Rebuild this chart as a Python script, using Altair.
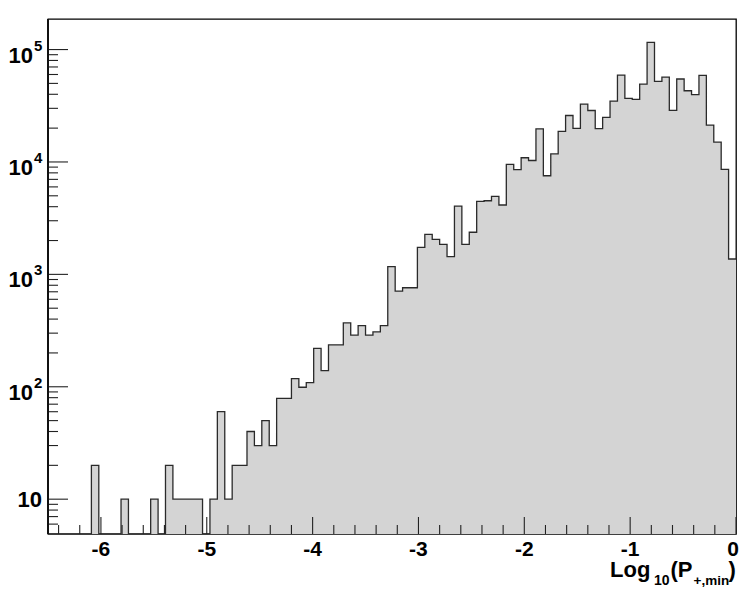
import altair as alt
import pandas as pd

# ---------------- data ----------------
BIN_WIDTH = 0.07
# histogram contents, bins left to right; last bin ends at 0
COUNTS = [
    0, 0, 0, 0, 0, 0, 20, 0, 0, 0, 10, 0, 0, 0, 10, 0, 20, 10, 10, 10,
    10, 0, 10, 60, 10, 20, 20, 40, 30, 50, 30, 79, 79, 118, 99, 109, 220, 139, 236, 236,
    370, 288, 350, 288, 308, 350, 1170, 710, 760, 760, 1740, 2270, 2050, 1850, 1440, 4050, 1850, 2370, 4460, 4520,
    4940, 4140, 9520, 8530, 10900, 10300, 19700, 7540, 11800, 18700, 25900, 19900, 32700, 28700, 19800, 24900, 34800, 59300, 36800, 36100,
    49300, 116000, 52100, 56900, 28800, 54700, 43000, 39800, 59000, 21300, 15000, 8600, 1370,
]
XTICKS = [-6, -5, -4, -3, -2, -1, 0]
XLABELS = ["-6", "-5", "-4", "-3", "-2", "-1", "0"]
XMINOR = [round(-6.4 + 0.2 * i, 1) for i in range(33)]
XMINOR = [v for v in XMINOR if abs(v - round(v)) > 1e-6]
YTICKS = [10, 100, 1000, 10000, 100000]
YBASE = ["10", "10", "10", "10", "10"]
YEXP = ["", "2", "3", "4", "5"]
YMINOR = [m * 10 ** k for k in range(0, 5) for m in range(2, 10)]
YMINOR = sorted(v for v in YMINOR if v > 5.5 and v not in YTICKS and v < 1.8e5)
XTITLE = ["Log", "10", "(P", "+,min", ")"]

# ---------------- layout ----------------
W, H = 688, 515
YMIN, YMAX = 4.9, 1.87e5
XMIN, XMAX = -6.5, 0.0
FONT = "Liberation Sans"

n = len(COUNTS)
lefts = [round(-BIN_WIDTH * (n - i), 4) for i in range(n)]
rights = [round(-BIN_WIDTH * (n - 1 - i), 4) for i in range(n)]

edges = lefts + [rights[-1]]
levels = [max(c, YMIN) for c in COUNTS] + [max(COUNTS[-1], YMIN)]
line_df = pd.DataFrame({"edge": edges, "level": levels, "floor": [YMIN] * len(edges)})

xs = alt.Scale(domain=[XMIN, XMAX], nice=False, zero=False)
ys = alt.Scale(type="log", domain=[YMIN, YMAX], nice=False)

fill = alt.Chart(line_df).mark_area(
    interpolate="step-after", color="#d4d4d4", opacity=1, clip=True
).encode(
    x=alt.X("edge:Q", scale=xs, axis=None),
    y=alt.Y("level:Q", scale=ys, axis=None, stack=None),
    y2="floor:Q",
)

outline = alt.Chart(line_df).mark_line(
    interpolate="step-after", color="#2a2a2a", strokeWidth=1.3, clip=True
).encode(
    x=alt.X("edge:Q", scale=xs, axis=None),
    y=alt.Y("level:Q", scale=ys, axis=None),
)

# ticks drawn inside the frame (ROOT style)
ymaj = alt.Chart(pd.DataFrame({"v": YTICKS})).mark_rule(color="#222", strokeWidth=1.1).encode(
    y=alt.Y("v:Q", scale=ys, axis=None), x=alt.value(0), x2=alt.value(20)
)
ymin_t = alt.Chart(pd.DataFrame({"v": YMINOR})).mark_rule(color="#222", strokeWidth=1.1).encode(
    y=alt.Y("v:Q", scale=ys, axis=None), x=alt.value(0), x2=alt.value(10)
)
xmaj = alt.Chart(pd.DataFrame({"v": XTICKS})).mark_rule(color="#222", strokeWidth=1.1).encode(
    x=alt.X("v:Q", scale=xs, axis=None), y=alt.value(H), y2=alt.value(H - 17)
)
xmin_t = alt.Chart(pd.DataFrame({"v": XMINOR})).mark_rule(color="#222", strokeWidth=1.1).encode(
    x=alt.X("v:Q", scale=xs, axis=None), y=alt.value(H), y2=alt.value(H - 9)
)
left_axis = alt.Chart(pd.DataFrame({"v": [0]})).mark_rule(color="#111", strokeWidth=2).encode(
    x=alt.value(0), y=alt.value(0), y2=alt.value(H)
)

# tick labels (the last one is kept inside the canvas edge)
xdf = pd.DataFrame({"v": XTICKS, "t": XLABELS})
xlab = alt.Chart(xdf.iloc[:-1]).mark_text(
    font=FONT, fontSize=21, fontWeight="bold", align="center", baseline="alphabetic", color="black"
).encode(x=alt.X("v:Q", scale=xs, axis=None), y=alt.value(H + 22), text="t:N")
xlab_last = alt.Chart(xdf.iloc[-1:]).mark_text(
    font=FONT, fontSize=21, fontWeight="bold", align="right", baseline="alphabetic", dx=3, color="black"
).encode(x=alt.X("v:Q", scale=xs, axis=None), y=alt.value(H + 22), text="t:N")

ydf = pd.DataFrame({"v": YTICKS, "b": YBASE, "e": YEXP})
ylab_plain = alt.Chart(ydf[ydf["e"] == ""]).mark_text(
    font=FONT, fontSize=22, fontWeight="bold", align="right", baseline="alphabetic", dy=8, color="black"
).encode(y=alt.Y("v:Q", scale=ys, axis=None), x=alt.value(-6), text="b:N")
ylab_base = alt.Chart(ydf[ydf["e"] != ""]).mark_text(
    font=FONT, fontSize=22, fontWeight="bold", align="right", baseline="alphabetic", dy=13, color="black"
).encode(y=alt.Y("v:Q", scale=ys, axis=None), x=alt.value(-15), text="b:N")
ylab_exp = alt.Chart(ydf[ydf["e"] != ""]).mark_text(
    font=FONT, fontSize=15, fontWeight="bold", align="left", baseline="alphabetic", dy=1, color="black"
).encode(y=alt.Y("v:Q", scale=ys, axis=None), x=alt.value(-14), text="e:N")

# axis title  Log10(P+,min)
title_specs = [
    (XTITLE[0], 562, 558, 22),
    (XTITLE[1], 606, 566, 14),
    (XTITLE[2], 622.5, 558, 22),
    (XTITLE[3], 645.5, 566, 13.5),
    (XTITLE[4], 680.5, 558, 22),
]
title_layers = []
for txt, tx, ty, fs in title_specs:
    title_layers.append(
        alt.Chart(pd.DataFrame({"t": [txt]})).mark_text(
            font=FONT, fontSize=fs, fontWeight="bold", align="left", baseline="alphabetic", color="black"
        ).encode(x=alt.value(tx), y=alt.value(ty), text="t:N")
    )

chart = alt.layer(
    fill, outline, ymin_t, ymaj, xmin_t, xmaj, left_axis,
    xlab, xlab_last, ylab_plain, ylab_base, ylab_exp, *title_layers
).properties(
    width=W, height=H,
    padding={"left": 40, "top": 11, "right": 3, "bottom": 55},
    autosize=alt.AutoSizeParams(type="none"),
    background="white",
).configure_view(stroke="black", strokeWidth=1.3)

chart.save("out.html", embed_options={"renderer": "svg", "actions": False})
